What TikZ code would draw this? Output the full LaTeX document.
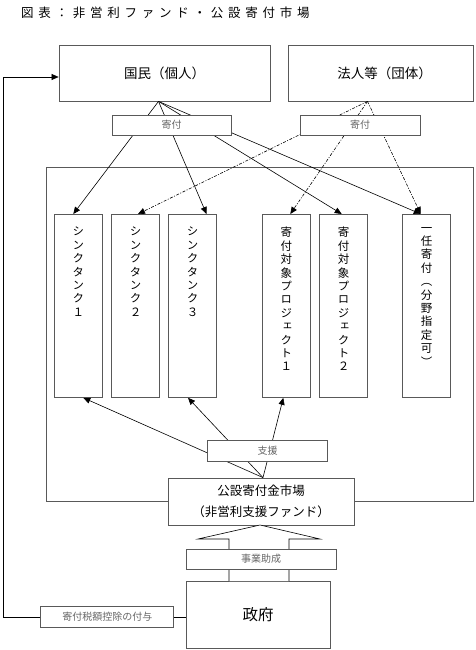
\documentclass[tikz,border=0pt]{standalone}
\usepackage{fontspec}
\setmainfont{Noto Sans CJK JP}
\newfontfamily\tatefont{Noto Sans CJK JP}[RawFeature=+vert]
\newfontfamily\spacedfont{Noto Sans CJK JP}[LetterSpace=38]
\usetikzlibrary{arrows.meta}
\usetikzlibrary{positioning}

\begin{document}
\begin{tikzpicture}[x=1pt, y=-1pt,
		box/.style={draw=black!65, line width=0.8pt, fill=white, inner sep=0pt},
		tag/.style={box, text=black!60, font=\fontsize{10}{12}\selectfont},
		column/.style={draw=black!65, line width=0.8pt, minimum width=48pt, minimum height=183pt, anchor=north, inner sep=0pt},
		tate/.style={anchor=north, yshift=-13pt, align=center, inner sep=0pt, font=\tatefont\fontsize{11.5}{13.4}\selectfont},
		giving/.style={line width=0.6pt, -{Triangle[length=7pt,width=6pt]}},
		corpgiving/.style={giving, dash pattern=on 3pt off 1.5pt on 1pt off 1.5pt}]

		\useasboundingbox (0,0) rectangle (475,650);

		% title
		\node[anchor=west, inner sep=0pt, font=\spacedfont\fontsize{12.5}{14}\selectfont] (title) at (21,13) {図表：非営利ファンド・公設寄付市場};

		% donors
		\node[box, minimum width=211pt, minimum height=56pt, font=\fontsize{13.5}{15}\selectfont] (kokumin) at (164.5,73) {国民（個人）};
		\node[box, minimum width=185pt, minimum height=56pt, font=\fontsize{13.5}{15}\selectfont] (houjin) at (380.5,73) {\hspace{8pt}法人等（団体）};

		% market frame
		\draw[draw=black!65, line width=0.8pt] (46,167) rectangle (473,501);

		% recipients
		\node[column, label={[tate]north:{シ\\ン\\ク\\タ\\ン\\ク\\１}}] (tt1) at (78.3,214) {};
		\node[column, label={[tate]north:{シ\\ン\\ク\\タ\\ン\\ク\\２}}] (tt2) at (135.5,214) {};
		\node[column, label={[tate]north:{シ\\ン\\ク\\タ\\ン\\ク\\３}}] (tt3) at (192.5,214) {};
		\node[column, label={[tate]north:{寄\\付\\対\\象\\プ\\ロ\\ジ\\ェ\\ク\\ト\\１}}] (pj1) at (286.3,214) {};
		\node[column, label={[tate]north:{寄\\付\\対\\象\\プ\\ロ\\ジ\\ェ\\ク\\ト\\２}}] (pj2) at (343.7,214) {};
		\node[column, label={[tate]north:{一\\任\\寄\\付\\（\\分\\野\\指\\定\\可\\）}}] (ninni) at (426.7,214) {};

		% fund and government
		\node[box, minimum width=186pt, minimum height=47pt, align=center, font=\fontsize{12.5}{21}\selectfont] (kousetsu) at (261,501.5) {公設寄付金市場\\（非営利支援ファンド）};
		\node[box, minimum width=144pt, minimum height=67pt, font=\fontsize{15.5}{17}\selectfont] (seifu) at (258,614.5) {政府};

		% donations
		\coordinate (kokuminapex) at ([xshift=-6pt]kokumin.south);
		\coordinate (houjinapex) at ([xshift=-13pt]houjin.south);
		\draw[giving] (kokuminapex) -- ([xshift=-5pt]tt1.north);
		\draw[giving] (kokuminapex) -- ([xshift=14pt]tt3.north);
		\draw[giving] (kokuminapex) -- ([xshift=-2pt]pj2.north);
		\draw[giving] (kokuminapex) -- ([xshift=-6pt]ninni.north);
		\draw[corpgiving] (houjinapex) -- ([xshift=2.5pt]tt2.north);
		\draw[corpgiving] (houjinapex) -- ([xshift=4pt]pj1.north);
		\draw[corpgiving] (houjinapex) -- ([xshift=-6pt]ninni.north);

		% support
		\coordinate (shienapex) at ([xshift=2pt]kousetsu.north);
		\draw[giving] (shienapex) -- ([xshift=5pt]tt1.south);
		\draw[giving] (shienapex) -- ([xshift=-4.5pt]tt3.south);
		\draw[giving] (shienapex) -- ([xshift=-3pt]pj1.south);

		% grant arrow
		\draw[line width=0.6pt, fill=white] (229,581) -- (229,539) -- (198,539) -- (260,525) -- (320,539) -- (289,539) -- (289,581);

		% labels on the flows
		\node[tag, minimum width=119pt, minimum height=20pt] (kifu1) at (171.5,125) {寄付};
		\node[tag, minimum width=120pt, minimum height=20pt] (kifu2) at (360,125) {寄付};
		\node[tag, minimum width=120pt, minimum height=21pt] (shien) at (267.7,451) {支援};
		\node[tag, minimum width=150pt, minimum height=20pt] (jigyou) at (261,559) {事業助成};
		\node[tag, minimum width=133pt, minimum height=21pt] (koujo) at (107.3,617) {寄付税額控除の付与};

		% tax credit back to citizens
		\coordinate (corner) at (3,617);
		\draw[line width=0.6pt] (koujo.east) -- (koujo.east -| seifu.west);
		\draw[giving] (koujo.west) -- (corner) |- ([yshift=-4pt]kokumin.west);

	\end{tikzpicture}
\end{document}
